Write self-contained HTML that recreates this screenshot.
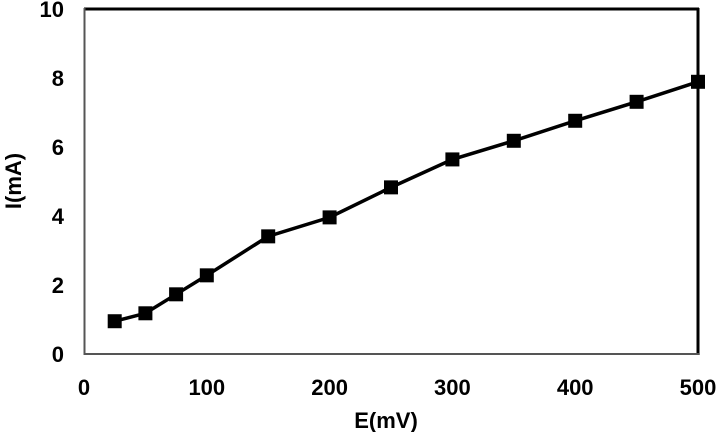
<!DOCTYPE html>
<html><head><meta charset="utf-8"><style>
body{margin:0;background:#fff;width:719px;height:432px;overflow:hidden}
text{font-family:"Liberation Sans",Arial,sans-serif;font-weight:bold;fill:#000}
</style></head><body>
<svg id="chart" width="719" height="432" xmlns="http://www.w3.org/2000/svg">
<rect x="84" y="9" width="614" height="345" fill="#fff"/>
<g id="ticks"></g>
<g id="series"></g>
<line x1="84" y1="9" x2="699" y2="9" stroke="#000" stroke-width="3"/>
<line x1="698" y1="8" x2="698" y2="355" stroke="#000" stroke-width="3"/>
<line x1="84.5" y1="8" x2="84.5" y2="355" stroke="#555" stroke-width="2"/>
<line x1="84" y1="354" x2="699" y2="354" stroke="#555" stroke-width="2"/>
<text x="386" y="428" font-size="22" text-anchor="middle">E(mV)</text>
<text transform="translate(21,181) rotate(-90)" font-size="22" text-anchor="middle">I(mA)</text>
</svg>
<script>
const xVals=[25,50,75,100,150,200,250,300,350,400,450,500];
const yVals=[0.95,1.18,1.73,2.28,3.41,3.96,4.83,5.64,6.18,6.76,7.31,7.89];
const xTicks=[0,100,200,300,400,500];
const yTicks=[0,2,4,6,8,10];
const X=v=>84+v*(698-84)/500;
const Y=v=>354-v*(354-9)/10;
const NS="http://www.w3.org/2000/svg";
const tg=document.getElementById('ticks');
xTicks.forEach(t=>{
 const e=document.createElementNS(NS,'text');
 
 
 e.setAttribute('x',X(t));e.setAttribute('y',395);e.setAttribute('font-size','22');e.setAttribute('text-anchor','middle');
 e.textContent=t;tg.appendChild(e);
});
yTicks.forEach(t=>{
 const e=document.createElementNS(NS,'text');
 
 
 e.setAttribute('x',64);e.setAttribute('y',Y(t)+8);e.setAttribute('font-size','22');e.setAttribute('text-anchor','end');
 e.textContent=t;tg.appendChild(e);
});
const sg=document.getElementById('series');
const pl=document.createElementNS(NS,'polyline');


pl.setAttribute('points',xVals.map((x,i)=>X(x)+','+Y(yVals[i])).join(' '));
pl.setAttribute('fill','none');pl.setAttribute('stroke','#000');pl.setAttribute('stroke-width','3.5');
sg.appendChild(pl);
xVals.forEach((x,i)=>{
 const r=document.createElementNS(NS,'rect');
 
 
 r.setAttribute('x',X(x)-7);r.setAttribute('y',Y(yVals[i])-7);r.setAttribute('width',14);r.setAttribute('height',14);r.setAttribute('fill','#000');
 sg.appendChild(r);
});
</script>
</body></html>
